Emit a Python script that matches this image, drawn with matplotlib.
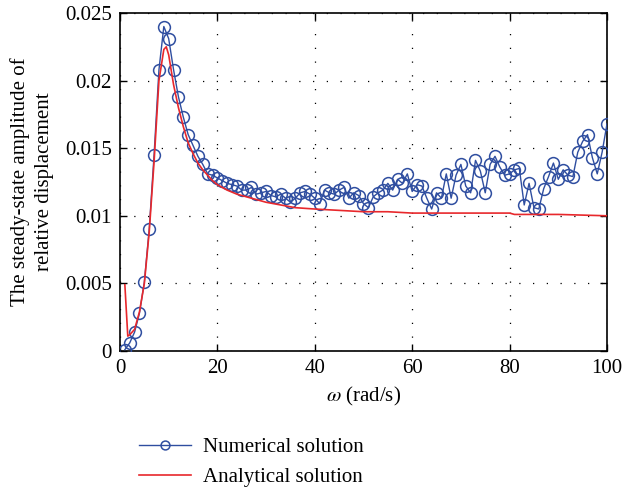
import matplotlib
matplotlib.use("Agg")
import matplotlib.pyplot as plt
from matplotlib.ticker import FixedLocator

plt.rcParams['font.family'] = ['Liberation Serif', 'DejaVu Serif']
plt.rcParams['mathtext.fontset'] = 'stix'

# ===== DATA =====
omega_num = list(range(1, 101))
amp_num = [
    0.0001, 0.0006, 0.0014, 0.0028, 0.0051, 0.0090, 0.0145, 0.0208, 0.0240, 0.0231,
    0.0208, 0.0188, 0.0173, 0.0160, 0.0152, 0.0144, 0.0138, 0.0131, 0.0130, 0.0128,
    0.0126, 0.0124, 0.0123, 0.0122, 0.0119, 0.0119, 0.0121, 0.0116, 0.0117, 0.0118,
    0.0115, 0.0114, 0.0116, 0.0113, 0.0110, 0.0113, 0.0117, 0.0118, 0.0116, 0.0113,
    0.0109, 0.0119, 0.0117, 0.0116, 0.0119, 0.0121, 0.0113, 0.0117, 0.0115, 0.0109,
    0.0106, 0.0114, 0.0117, 0.0119, 0.0124, 0.0119, 0.0127, 0.0124, 0.0131, 0.0118,
    0.0123, 0.0122, 0.0113, 0.0105, 0.0117, 0.0113, 0.0131, 0.0113, 0.0130, 0.0138,
    0.0122, 0.0117, 0.0141, 0.0133, 0.0117, 0.0138, 0.0144, 0.0136, 0.0130, 0.0131,
    0.0134, 0.0135, 0.0108, 0.0124, 0.0106, 0.0105, 0.0120, 0.0129, 0.0139, 0.0127,
    0.0134, 0.0130, 0.0129, 0.0147, 0.0155, 0.0160, 0.0143, 0.0131, 0.0147, 0.0168,
]

omega_ana = [1, 1.6, 2, 3, 4, 5, 6, 7, 8, 9, 9.5, 10, 11, 12, 13, 14, 15, 16, 17, 18,
             19, 20, 22, 24, 26, 28, 30, 33, 36, 40, 45, 50, 55, 60, 70, 80, 81, 90, 100]
amp_ana = [0.0049, 0.0011, 0.0012, 0.0016, 0.0029, 0.0050, 0.0088, 0.0140, 0.0200, 0.0223,
           0.0225, 0.0219, 0.0197, 0.0180, 0.0166, 0.0154, 0.0146, 0.0139, 0.0134, 0.0130,
           0.0126, 0.0123, 0.0119, 0.0116, 0.0114, 0.0112, 0.0110, 0.0108, 0.0106, 0.0105,
           0.0104, 0.0103, 0.0103, 0.0102, 0.0102, 0.0102, 0.0101, 0.0101, 0.0100]

x_ticks = [0, 20, 40, 60, 80, 100]
y_ticks = [0, 0.005, 0.01, 0.015, 0.02, 0.025]
y_tick_labels = ["0", "0.005", "0.01", "0.015", "0.02", "0.025"]

BLUE = "#2F4EA0"
RED = "#E8282C"

# ===== FIGURE =====
fig = plt.figure(figsize=(6.23, 4.9), dpi=100)
ax = fig.add_axes([0.1926, 0.2837, 0.7817, 0.6898])

ln_num, = ax.plot(omega_num, amp_num, color=BLUE, linewidth=1.0, marker='o',
                  markersize=8.5, markerfacecolor='none', markeredgecolor=BLUE,
                  markeredgewidth=1.1, label="Numerical solution", zorder=3)
ln_ana, = ax.plot(omega_ana, amp_ana, color=RED, linewidth=1.2,
                  label="Analytical solution", zorder=4)

ax.set_xlim(0, 100)
ax.set_ylim(0, 0.025)
ax.xaxis.set_major_locator(FixedLocator(x_ticks))
ax.set_yticks(y_ticks)
ax.set_yticklabels(y_tick_labels)
ax.tick_params(direction='in', top=True, right=True, length=5, width=1,
               labelsize=15, pad=6)
ax.grid(True, color='black', linestyle=(0, (1, 10)), linewidth=0.9)
for s in ax.spines.values():
    s.set_linewidth(1.2)

ax.set_xlabel(r"$\omega$ (rad/s)", fontsize=15, labelpad=5)
ax.set_ylabel("The steady-state amplitude of\nrelative displacement",
              fontsize=15, labelpad=8, linespacing=1.35)

# legend sits under the axes, no frame
fig.legend(handles=[ln_num, ln_ana], loc='upper left',
           bbox_to_anchor=(0.193, 0.146), frameon=False, fontsize=15,
           handlelength=2.5, handletextpad=0.55, labelspacing=0.5,
           markerscale=0.75)

fig.savefig("out.png", dpi=100)
